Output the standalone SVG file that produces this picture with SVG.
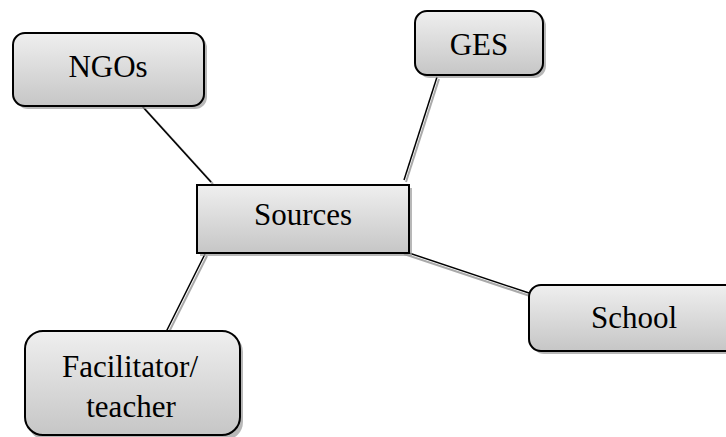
<svg xmlns="http://www.w3.org/2000/svg" width="726" height="437" viewBox="0 0 726 437">
<defs>
<linearGradient id="g" x1="0" y1="0" x2="0" y2="1">
<stop offset="0" stop-color="#efefef"/>
<stop offset="1" stop-color="#c6c6c6"/>
</linearGradient>
<style>
.box{fill:url(#g);stroke:#000;stroke-width:2}
.sh{fill:#9a9a9a;opacity:0.7}
.t{font-family:"Liberation Serif","Times New Roman",serif;font-size:31px;fill:#000;text-anchor:middle}
.ln{stroke:#000;stroke-width:1.5;fill:none}
.lns{stroke:#aaa;stroke-width:2;fill:none}
</style>
</defs>
<rect width="726" height="437" fill="#fff"/>
<g id="connectors">
<line class="lns" x1="144" y1="108" x2="213" y2="184"/>
<line class="ln" x1="142" y1="106" x2="211" y2="182"/>
<line class="lns" x1="439" y1="79" x2="406" y2="182"/>
<line class="ln" x1="437" y1="77" x2="404" y2="180"/>
<line class="lns" x1="404" y1="254" x2="530" y2="296"/>
<line class="ln" x1="403" y1="251" x2="529" y2="293"/>
<line class="lns" x1="207" y1="256" x2="168" y2="334"/>
<line class="ln" x1="205" y1="254" x2="166" y2="332"/>
</g>
<g id="ngos">
<rect class="sh" x="16" y="36" width="191" height="73" rx="12"/>
<rect class="box" x="13" y="33" width="191" height="73" rx="12"/>
<text class="t" x="108" y="77">NGOs</text>
</g>
<g id="ges">
<rect class="sh" x="418" y="14" width="128" height="64" rx="12"/>
<rect class="box" x="415" y="11" width="128" height="64" rx="12"/>
<text class="t" x="479" y="55">GES</text>
</g>
<g id="sources">
<rect class="sh" x="200" y="188" width="212" height="68"/>
<rect class="box" x="197" y="185" width="212" height="68"/>
<text class="t" x="303" y="225">Sources</text>
</g>
<g id="school">
<rect class="sh" x="532" y="288" width="210" height="66" rx="12"/>
<rect class="box" x="529" y="285" width="210" height="66" rx="12"/>
<text class="t" x="634" y="328">School</text>
</g>
<g id="facilitator">
<rect class="sh" x="28" y="334" width="215" height="106" rx="18"/>
<rect class="box" x="25" y="331" width="215" height="104" rx="18"/>
<text class="t" x="130" y="377">Facilitator/</text>
<text class="t" x="131" y="417">teacher</text>
</g>
</svg>
